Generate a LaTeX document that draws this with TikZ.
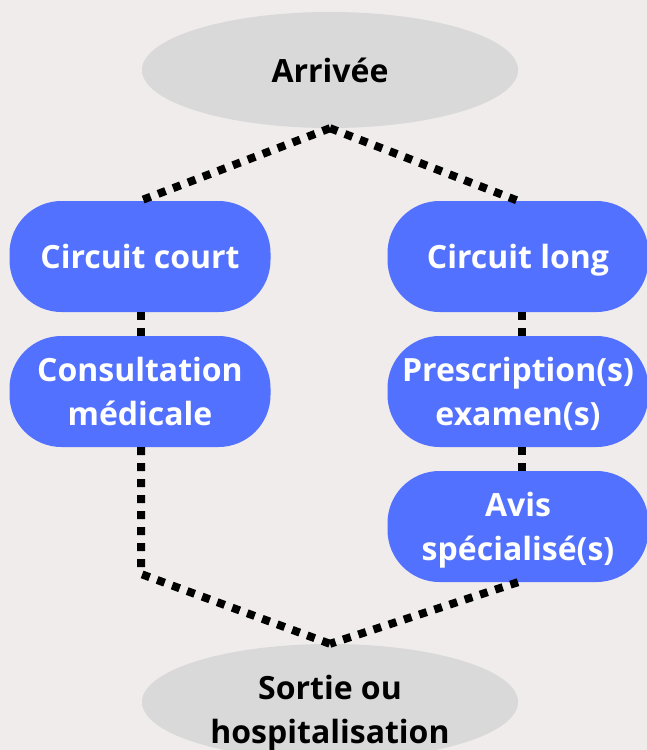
\documentclass[tikz,border=0pt]{standalone}
\usepackage{fontspec}
\setmainfont{Open Sans}
\usetikzlibrary{shapes.geometric}
\definecolor{bg}{HTML}{EFECEB}
\definecolor{ellg}{HTML}{D9D9D9}
\definecolor{bl}{HTML}{5271FF}
\begin{document}
\begin{tikzpicture}[x=1pt,y=-1pt,
  ell/.style={ellipse, fill=ellg, minimum width=376pt, minimum height=116pt, inner sep=0pt},
  box/.style={rectangle, fill=bl, rounded corners=52pt, minimum width=261pt, minimum height=111pt, inner sep=0pt, text=white, font=\bfseries\fontsize{32}{43.5}\selectfont, align=center, text depth=0pt},
  etxt/.style={font=\bfseries\fontsize{32}{43.5}\selectfont, align=center, text depth=0pt, inner sep=0pt},
  link/.style={line width=8pt, dash pattern=on 8pt off 8pt}]
\fill[bg] (0,0) rectangle (647,750);
\useasboundingbox (0,0) rectangle (647,750);
% nodes
\node[ell] (arr) at (330,70) {};
\node[etxt] (arrtxt) at (330,70.5) {Arrivée};
\node[box] (cc) at (140,256.5) {Circuit court};
\node[box] (cm) at (140,391.5) {Consultation\\médicale};
\node[box] (cl) at (518,256.5) {Circuit long};
\node[box] (pe) at (518,391.5) {Prescription(s)\\examen(s)};
\node[box] (av) at (518,526.5) {Avis\\spécialisé(s)};
\node[ell] (so) at (330,702) {};
\node[etxt] (sotxt) at (330,709.5) {Sortie ou\\hospitalisation};
\coordinate (bend) at (141,574);
% connectors
\draw[link] (arr.south) -- (cc.north);
\draw[link] (arr.south) -- (cl.north);
\draw[link] ([xshift=1pt]cc.south) -- ([xshift=1pt]cm.north);
\draw[link] ([xshift=4pt]cl.south) -- ([xshift=4pt]pe.north);
\draw[link] ([xshift=4pt]pe.south) -- ([xshift=4pt]av.north);
\draw[link] ([xshift=1pt]cm.south) -- (bend) -- (so.north);
\draw[link] (av.south) -- (so.north);
\end{tikzpicture}
\end{document}
